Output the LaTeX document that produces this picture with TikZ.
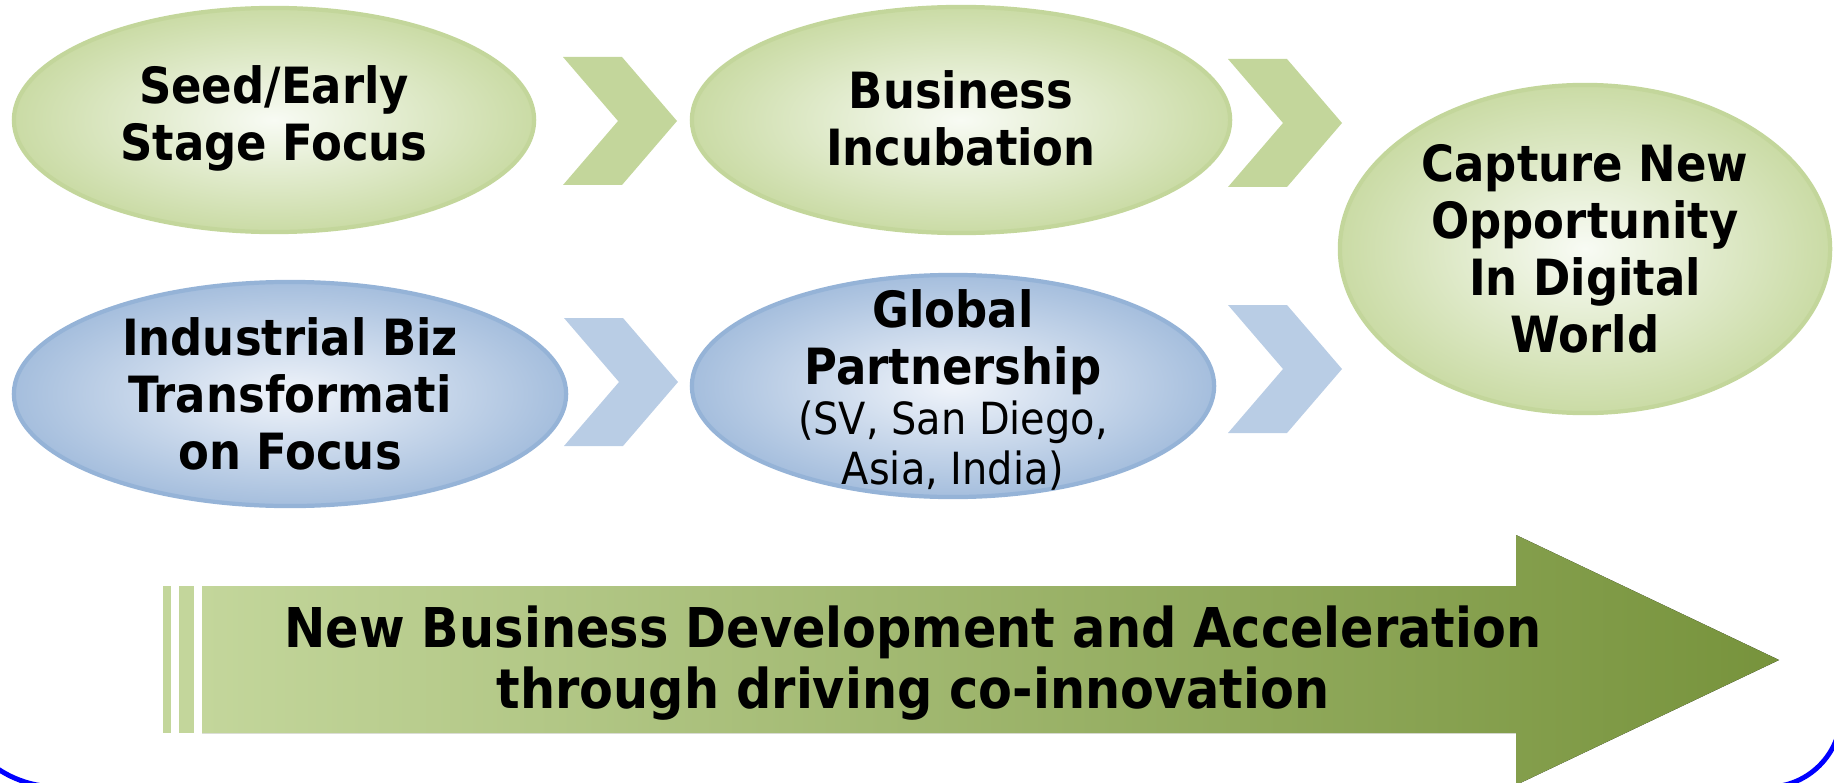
\documentclass[tikz,border=0pt]{standalone}
\usepackage{fontspec}
\setmainfont{DejaVu Sans Condensed}
\usetikzlibrary{shapes.geometric}
\definecolor{leaf}{HTML}{C3D69B}
\definecolor{leafpale}{HTML}{F8FBF4}
\definecolor{leafedge}{HTML}{CADBA5}
\definecolor{sky}{HTML}{95B3D7}
\definecolor{skypale}{HTML}{F0F4FA}
\definecolor{skyedge}{HTML}{A5BEDD}
\definecolor{skychev}{HTML}{B9CDE5}
\definecolor{olive}{HTML}{77933C}
\newcommand{\chevat}[3]{\fill[#1] (#2,#3) -- ++(59,0) -- ++(55,64) -- ++(-55,64) -- ++(-59,0) -- ++(55,-64) -- cycle;}
\newcommand{\subfont}{\mdseries\fontsize{12.6}{13.5}\selectfont}

\begin{document}
\begin{tikzpicture}[x=0.01cm,y=-0.01cm,
	oval/.style={ellipse,inner sep=0pt,line width=1.2pt},
	greenoval/.style={oval,draw=leaf,inner color=leafpale,outer color=leafedge},
	blueoval/.style={oval,draw=sky,inner color=skypale,outer color=skyedge},
	ovaltext/.style={align=center,font=\fontsize{14.2}{16.2}\selectfont\bfseries},
	bandtext/.style={align=center,font=\fontsize{15.6}{17.4}\selectfont\bfseries}]
	\useasboundingbox (0,0) rectangle (1834,782);
	\draw[blue,line width=1.4pt] (-50,560) -- (-50,679) .. controls (-50,739) and (-2,787) .. (58,787) -- (1768,787) .. controls (1808,787) and (1841,754) .. (1841,714) -- (1841,560);

	\node[greenoval,minimum width=5.2cm,minimum height=2.24cm] (seed) at (274,120) {};
	\node[greenoval,minimum width=5.38cm,minimum height=2.26cm] (incub) at (961,120) {};
	\node[greenoval,minimum width=4.9cm,minimum height=3.28cm] (capture) at (1585,249) {};
	\node[blueoval,minimum width=5.52cm,minimum height=2.24cm] (indus) at (290,394) {};
	\node[blueoval,minimum width=5.22cm,minimum height=2.22cm] (global) at (953,386) {};

	\node[ovaltext] (seedtxt) at (274,118) {Seed/Early\\Stage Focus};
	\node[ovaltext] (incubtxt) at (961,118) {Business\\Incubation};
	\node[ovaltext] (capturetxt) at (1585,249) {Capture New\\Opportunity\\In Digital\\World};
	\node[ovaltext] (industxt) at (290,394) {Industrial Biz\\Transformati\\on Focus};
	\node[ovaltext] (globaltxt) at (953,390) {Global\\Partnership\\[-2pt]{\subfont (SV, San Diego,}\\[-2pt]{\subfont Asia, India)}};

	\chevat{leaf}{563}{57}
	\chevat{leaf}{1228}{59}
	\chevat{skychev}{564}{318}
	\chevat{skychev}{1228}{305}

	\fill[leaf] (163,586) rectangle (171,733);
	\fill[leaf] (179,586) rectangle (194,733);
	\fill[left color=leaf,right color=olive] (202,586) -- (1516,586) -- (1516,535) -- (1779,660) -- (1516,785) -- (1516,733) -- (202,733) -- cycle;
	\node[bandtext] (band) at (913,663) {New Business Development and Acceleration\\through driving co-innovation};
\end{tikzpicture}
\end{document}
